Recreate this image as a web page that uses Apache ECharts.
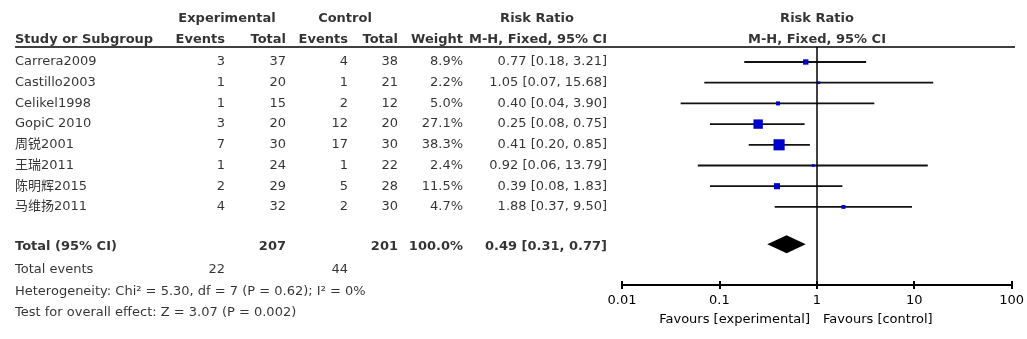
<!DOCTYPE html>
<html><head><meta charset="utf-8">
<script src="https://cdn.jsdelivr.net/npm/echarts@6/dist/echarts.min.js"></script>
<style>html,body{margin:0;padding:0;background:#fff}#c{width:1027px;height:339px}</style>
</head><body><div id="c"></div>
<script>
// ---------- data ----------
const studies   = ['Carrera2009','Castillo2003','Celikel1998','GopiC 2010','周锐2001','王瑞2011','陈明辉2015','马维扬2011'];
const expEvents = [3,1,1,3,7,1,2,4];
const expTotal  = [37,20,15,20,30,24,29,32];
const ctlEvents = [4,1,2,12,17,1,5,2];
const ctlTotal  = [38,21,12,20,30,22,28,30];
const weights   = [8.9,2.2,5.0,27.1,38.3,2.4,11.5,4.7];
const rr        = [0.77,1.05,0.40,0.25,0.41,0.92,0.39,1.88];
const ciLow     = [0.18,0.07,0.04,0.08,0.20,0.06,0.08,0.37];
const ciHigh    = [3.21,15.68,3.90,0.75,0.85,13.79,1.83,9.50];
const totalRR = 0.49, totalLow = 0.31, totalHigh = 0.77;
const totalExp = 207, totalCtl = 201, totalWeight = '100.0%';
const totalEventsExp = 22, totalEventsCtl = 44;
const heterogeneityText = 'Heterogeneity: Chi² = 5.30, df = 7 (P = 0.62); I² = 0%';
const overallText = 'Test for overall effect: Z = 3.07 (P = 0.002)';
const tickLabels = ['0.01','0.1','1','10','100'];
const favourLeft = 'Favours [experimental]', favourRight = 'Favours [control]';

// ---------- layout ----------
const FONT = 'DejaVu Sans, Noto Sans CJK SC, sans-serif';
const ROW0 = 62, PITCH = 20.7, H = 339;
const PLOT_TOP = 47, AXIS_Y = 285;
const COL = {study:15, expEv:225, expTot:286, ctlEv:348, ctlTot:398, wt:463, rrTxt:607, plotC:817};
const ROW = {h1:-2.1, h2:-1.1, total:8.9, tev:10.05, het:11.1, test:12.1};
const fmt2 = v => v.toFixed(2);
const rrStr = (e,l,h) => fmt2(e)+' ['+fmt2(l)+', '+fmt2(h)+']';

const cells = [];
function cell(x,row,text,align,bold){
  cells.push({name:String(text), value:[x,row], label:{align:align, fontWeight: bold?'bold':'normal'}});
}
// headers
cell(227,ROW.h1,'Experimental','center',true);
cell(345,ROW.h1,'Control','center',true);
cell(537,ROW.h1,'Risk Ratio','center',true);
cell(COL.plotC,ROW.h1,'Risk Ratio','center',true);
cell(COL.study,ROW.h2,'Study or Subgroup','left',true);
cell(COL.expEv,ROW.h2,'Events','right',true);
cell(COL.expTot,ROW.h2,'Total','right',true);
cell(COL.ctlEv,ROW.h2,'Events','right',true);
cell(COL.ctlTot,ROW.h2,'Total','right',true);
cell(COL.wt,ROW.h2,'Weight','right',true);
cell(COL.rrTxt,ROW.h2,'M-H, Fixed, 95% CI','right',true);
cell(COL.plotC,ROW.h2,'M-H, Fixed, 95% CI','center',true);
// studies
studies.forEach((s,i)=>{
  cell(COL.study,i,s,'left');
  cell(COL.expEv,i,expEvents[i],'right');
  cell(COL.expTot,i,expTotal[i],'right');
  cell(COL.ctlEv,i,ctlEvents[i],'right');
  cell(COL.ctlTot,i,ctlTotal[i],'right');
  cell(COL.wt,i,weights[i].toFixed(1)+'%','right');
  cell(COL.rrTxt,i,rrStr(rr[i],ciLow[i],ciHigh[i]),'right');
});
// totals
cell(COL.study,ROW.total,'Total (95% CI)','left',true);
cell(COL.expTot,ROW.total,totalExp,'right',true);
cell(COL.ctlTot,ROW.total,totalCtl,'right',true);
cell(COL.wt,ROW.total,totalWeight,'right',true);
cell(COL.rrTxt,ROW.total,rrStr(totalRR,totalLow,totalHigh),'right',true);
cell(COL.study,ROW.tev,'Total events','left');
cell(COL.expEv,ROW.tev,totalEventsExp,'right');
cell(COL.ctlEv,ROW.tev,totalEventsCtl,'right');
cell(COL.study,ROW.het,heterogeneityText,'left');
cell(COL.study,ROW.test,overallText,'left');

const ciData = studies.map((s,i)=>[ciLow[i],ciHigh[i],i]);
const sqData = studies.map((s,i)=>[rr[i],i]);

const chart = echarts.init(document.getElementById('c'),null,{renderer:'canvas'});
chart.setOption({
  animation:false,
  backgroundColor:'#fff',
  textStyle:{fontFamily:FONT},
  grid:[
    {left:622, right:15, top:PLOT_TOP, bottom:H-AXIS_Y},
    {left:0, right:0, top:0, bottom:0}
  ],
  xAxis:[
    {gridIndex:0, type:'log', logBase:10, min:0.01, max:100, position:'bottom',
     axisLine:{onZero:false, lineStyle:{color:'#000', width:2}},
     axisTick:{show:true, length:4, lineStyle:{color:'#000', width:2}},
     axisLabel:{color:'#000', fontSize:13, fontFamily:FONT, margin:9,
       formatter:v=>tickLabels[Math.round(Math.log10(v))+2]},
     splitLine:{show:false}},
    {gridIndex:0, type:'log', logBase:10, min:0.01, max:100, position:'bottom',
     axisLine:{show:false, onZero:false},
     axisTick:{show:true, inside:true, length:4, lineStyle:{color:'#000', width:2}},
     axisLabel:{show:false}, splitLine:{show:false}},
    {gridIndex:1, type:'value', min:0, max:1027, show:false}
  ],
  yAxis:[
    {gridIndex:0, type:'value', inverse:true, min:(PLOT_TOP-ROW0)/PITCH, max:(AXIS_Y-ROW0)/PITCH, show:false},
    {gridIndex:1, type:'value', inverse:true, min:-ROW0/PITCH, max:(H-ROW0)/PITCH, show:false}
  ],
  graphic:[
    {type:'text', x:810, y:320, style:{text:favourLeft, font:'13px '+FONT, fill:'#000', align:'right', verticalAlign:'middle'}},
    {type:'text', x:823, y:320, style:{text:favourRight, font:'13px '+FONT, fill:'#000', align:'left', verticalAlign:'middle'}}
  ],
  series:[
    {type:'scatter', xAxisIndex:2, yAxisIndex:1, symbolSize:1, itemStyle:{color:'transparent'},
     silent:true, clip:false, data:cells,
     label:{show:true, position:'inside', formatter:p=>p.name, color:'#000', fontSize:13, fontFamily:FONT, verticalAlign:'middle'},
     markLine:{silent:true, symbol:['none','none'], label:{show:false},
       lineStyle:{color:'#000', width:1.5, type:'solid'},
       data:[[{coord:[15,(PLOT_TOP-ROW0)/PITCH]},{coord:[1015,(PLOT_TOP-ROW0)/PITCH]}]]}
    },
    {type:'custom', xAxisIndex:0, yAxisIndex:0, data:ciData, encode:{x:[0,1], y:2}, silent:true,
     renderItem:(params,api)=>{
       const a = api.coord([api.value(0),api.value(2)]);
       const b = api.coord([api.value(1),api.value(2)]);
       return {type:'line', shape:{x1:a[0],y1:a[1],x2:b[0],y2:b[1]}, style:{stroke:'#111', lineWidth:1.8}};
     },
     markLine:{silent:true, symbol:['none','none'], label:{show:false},
       lineStyle:{color:'#000', width:1.5, type:'solid'}, data:[{xAxis:1}]}
    },
    {type:'scatter', xAxisIndex:0, yAxisIndex:0, data:sqData, symbol:'rect', silent:true, z:5,
     symbolSize:(v,p)=>Math.max(2.5, 1.8*Math.sqrt(weights[p.dataIndex])),
     itemStyle:{color:'#0000cc', opacity:1}},
    {type:'custom', xAxisIndex:0, yAxisIndex:0, silent:true, z:5,
     data:[[totalLow,totalHigh,ROW.total-0.1,totalRR]], encode:{x:[0,1,3], y:2},
     renderItem:(params,api)=>{
       const y = api.value(2);
       const l = api.coord([api.value(0),y]);
       const r = api.coord([api.value(1),y]);
       const c = api.coord([api.value(3),y]);
       return {type:'polygon', shape:{points:[l,[c[0],c[1]-9],r,[c[0],c[1]+9]]}, style:{fill:'#000'}};
     }}
  ]
});
</script></body></html>
